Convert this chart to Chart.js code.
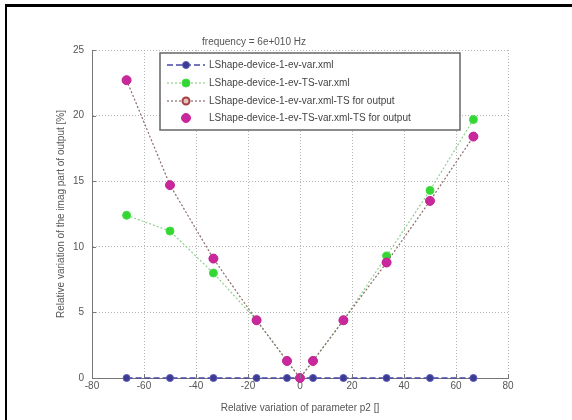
<!DOCTYPE html>
<html>
<head>
<meta charset="utf-8">
<script src="https://cdn.jsdelivr.net/npm/chart.js@4/dist/chart.umd.min.js"></script>
<style>
    html, body { margin: 0; padding: 0; background: #fff; }
    #wrap { position: relative; width: 572px; height: 420px; overflow: hidden; }
    #frame {
        position: absolute; left: 5px; top: 4px; right: -10px; bottom: -10px;
        border-left: 2px solid #000; border-top: 3px solid #000;
        pointer-events: none;
    }
</style>
</head>
<body>
<div id="wrap">
    <canvas id="chart" width="572" height="420"></canvas>
    <div id="frame"></div>
</div>
<script>
// valori del parametro p2 (%)
const p2Values = [-66.7, -50, -33.3, -16.7, -5, 0, 5, 16.7, 33.3, 50, 66.7];

// variazione relativa della parte immaginaria dell'uscita (%)
const evVar        = [0, 0, 0, 0, 0, 0, 0, 0, 0, 0, 0];
const evTsVar      = [12.4, 11.2, 8.0, 4.4, 1.3, 0, 1.3, 4.4, 9.3, 14.3, 19.7];
const evVarTs      = [22.7, 14.7, 9.1, 4.4, 1.3, 0, 1.3, 4.4, 8.8, 13.5, 18.4];
const evTsVarTs    = [22.7, 14.7, 9.1, 4.4, 1.3, 0, 1.3, 4.4, 8.8, 13.5, 18.4];

const seriesNames = [
    "LShape-device-1-ev-var.xml",
    "LShape-device-1-ev-TS-var.xml",
    "LShape-device-1-ev-var.xml-TS for output",
    "LShape-device-1-ev-TS-var.xml-TS for output"
];

const xTicks = [-80, -60, -40, -20, 0, 20, 40, 60, 80];
const yTicks = [0, 5, 10, 15, 20, 25];

const FONT = "'Liberation Sans', Arial, sans-serif";
const TEXT = "#555";

function points(ys) {
    return p2Values.map((x, i) => ({ x: x, y: ys[i] }));
}

// legenda dentro il grafico, con bordo
const boxLegend = {
    id: "boxLegend",
    afterDraw(chart) {
        const c = chart.ctx;
        const x0 = 160, y0 = 53, x1 = 460, y1 = 130;
        c.save();
        c.fillStyle = "#fff";
        c.fillRect(x0, y0, x1 - x0, y1 - y0);
        c.strokeStyle = "#666";
        c.lineWidth = 1.5;
        c.strokeRect(x0, y0, x1 - x0, y1 - y0);

        const rows = [65, 83, 101, 118];
        chart.data.datasets.forEach((ds, i) => {
            const y = rows[i];
            if (ds.showLine !== false) {
                c.strokeStyle = ds.borderColor;
                c.lineWidth = ds.borderWidth || 1;
                c.setLineDash(ds.borderDash || []);
                c.beginPath();
                c.moveTo(167, y);
                c.lineTo(205, y);
                c.stroke();
                c.setLineDash([]);
            }
            c.beginPath();
            c.arc(186, y, ds.pointRadius, 0, Math.PI * 2);
            c.fillStyle = ds.pointBackgroundColor;
            c.fill();
            c.lineWidth = ds.pointBorderWidth;
            c.strokeStyle = ds.pointBorderColor;
            c.stroke();

            c.fillStyle = "#444";
            c.font = "10px " + FONT;
            c.textBaseline = "middle";
            c.fillText(seriesNames[i], 209, y);
        });
        c.restore();
    }
};

// tacche rivolte verso l'interno
const innerTicks = {
    id: "innerTicks",
    afterDraw(chart) {
        const c = chart.ctx;
        const a = chart.chartArea;
        const xs = chart.scales.x, ys = chart.scales.y;
        c.save();
        c.strokeStyle = "#777";
        c.lineWidth = 1;
        c.beginPath();
        xTicks.forEach(v => {
            const px = Math.round(xs.getPixelForValue(v)) + 0.5;
            c.moveTo(px, a.bottom);
            c.lineTo(px, a.bottom - 4);
        });
        yTicks.forEach(v => {
            const py = Math.round(ys.getPixelForValue(v)) + 0.5;
            c.moveTo(a.left, py);
            c.lineTo(a.left + 4, py);
        });
        c.stroke();
        c.restore();
    }
};

const ctx = document.getElementById("chart").getContext("2d");

new Chart(ctx, {
    type: "line",
    data: {
        datasets: [
            {
                label: seriesNames[0],
                data: points(evVar),
                borderColor: "#4848a8",
                borderWidth: 1.5,
                borderDash: [6, 3],
                pointRadius: 3.5,
                pointBackgroundColor: "#3c3c94",
                pointBorderColor: "#5a5ab4",
                pointBorderWidth: 1,
                order: 4
            },
            {
                label: seriesNames[1],
                data: points(evTsVar),
                borderColor: "#8fd08f",
                borderWidth: 1.2,
                borderDash: [2, 2],
                pointRadius: 4,
                pointBackgroundColor: "#33d633",
                pointBorderColor: "#44dd44",
                pointBorderWidth: 1,
                order: 3
            },
            {
                label: seriesNames[2],
                data: points(evVarTs),
                borderColor: "#8a6a6a",
                borderWidth: 1.2,
                borderDash: [2, 2],
                pointRadius: 3.5,
                pointBackgroundColor: "#e8c0c0",
                pointBorderColor: "#a04040",
                pointBorderWidth: 2,
                order: 2
            },
            {
                label: seriesNames[3],
                data: points(evTsVarTs),
                showLine: false,
                borderColor: "#c8289c",
                pointRadius: 4.5,
                pointBackgroundColor: "#c8289c",
                pointBorderColor: "#c8289c",
                pointBorderWidth: 1,
                order: 1
            }
        ]
    },
    options: {
        responsive: false,
        animation: false,
        clip: false,
        layout: { padding: { left: 0, right: 64, top: 0, bottom: 0 } },
        plugins: {
            legend: { display: false },
            tooltip: { enabled: false },
            title: {
                display: true,
                text: "frequency = 6e+010 Hz",
                color: TEXT,
                font: { family: FONT, size: 10, weight: "normal" },
                padding: { top: 36, bottom: 2 }
            }
        },
        scales: {
            x: {
                type: "linear",
                min: -80,
                max: 80,
                afterBuildTicks: s => { s.ticks = xTicks.map(v => ({ value: v })); },
                afterFit: s => { s.height = 42; },
                ticks: { color: TEXT, font: { family: FONT, size: 10 }, padding: 2, maxRotation: 0 },
                grid: { color: "#b4b4b4", lineWidth: 1, tickLength: 0 },
                border: { color: "#777", width: 1, dash: [1, 2] },
                title: {
                    display: true,
                    text: "Relative variation of parameter p2 []",
                    color: TEXT,
                    font: { family: FONT, size: 10 },
                    padding: { top: 0, bottom: 6 }
                }
            },
            y: {
                type: "linear",
                min: 0,
                max: 25,
                afterBuildTicks: s => { s.ticks = yTicks.map(v => ({ value: v })); },
                afterFit: s => { s.width = 92; },
                ticks: { color: TEXT, font: { family: FONT, size: 10 }, padding: 8 },
                grid: { color: "#b4b4b4", lineWidth: 1, tickLength: 0 },
                border: { color: "#777", width: 1, dash: [1, 2] },
                title: {
                    display: true,
                    text: "Relative variation of the imag part of output [%]",
                    color: TEXT,
                    font: { family: FONT, size: 10 },
                    padding: { top: 55, bottom: 0 }
                }
            }
        }
    },
    plugins: [boxLegend, innerTicks]
});
</script>
</body>
</html>
